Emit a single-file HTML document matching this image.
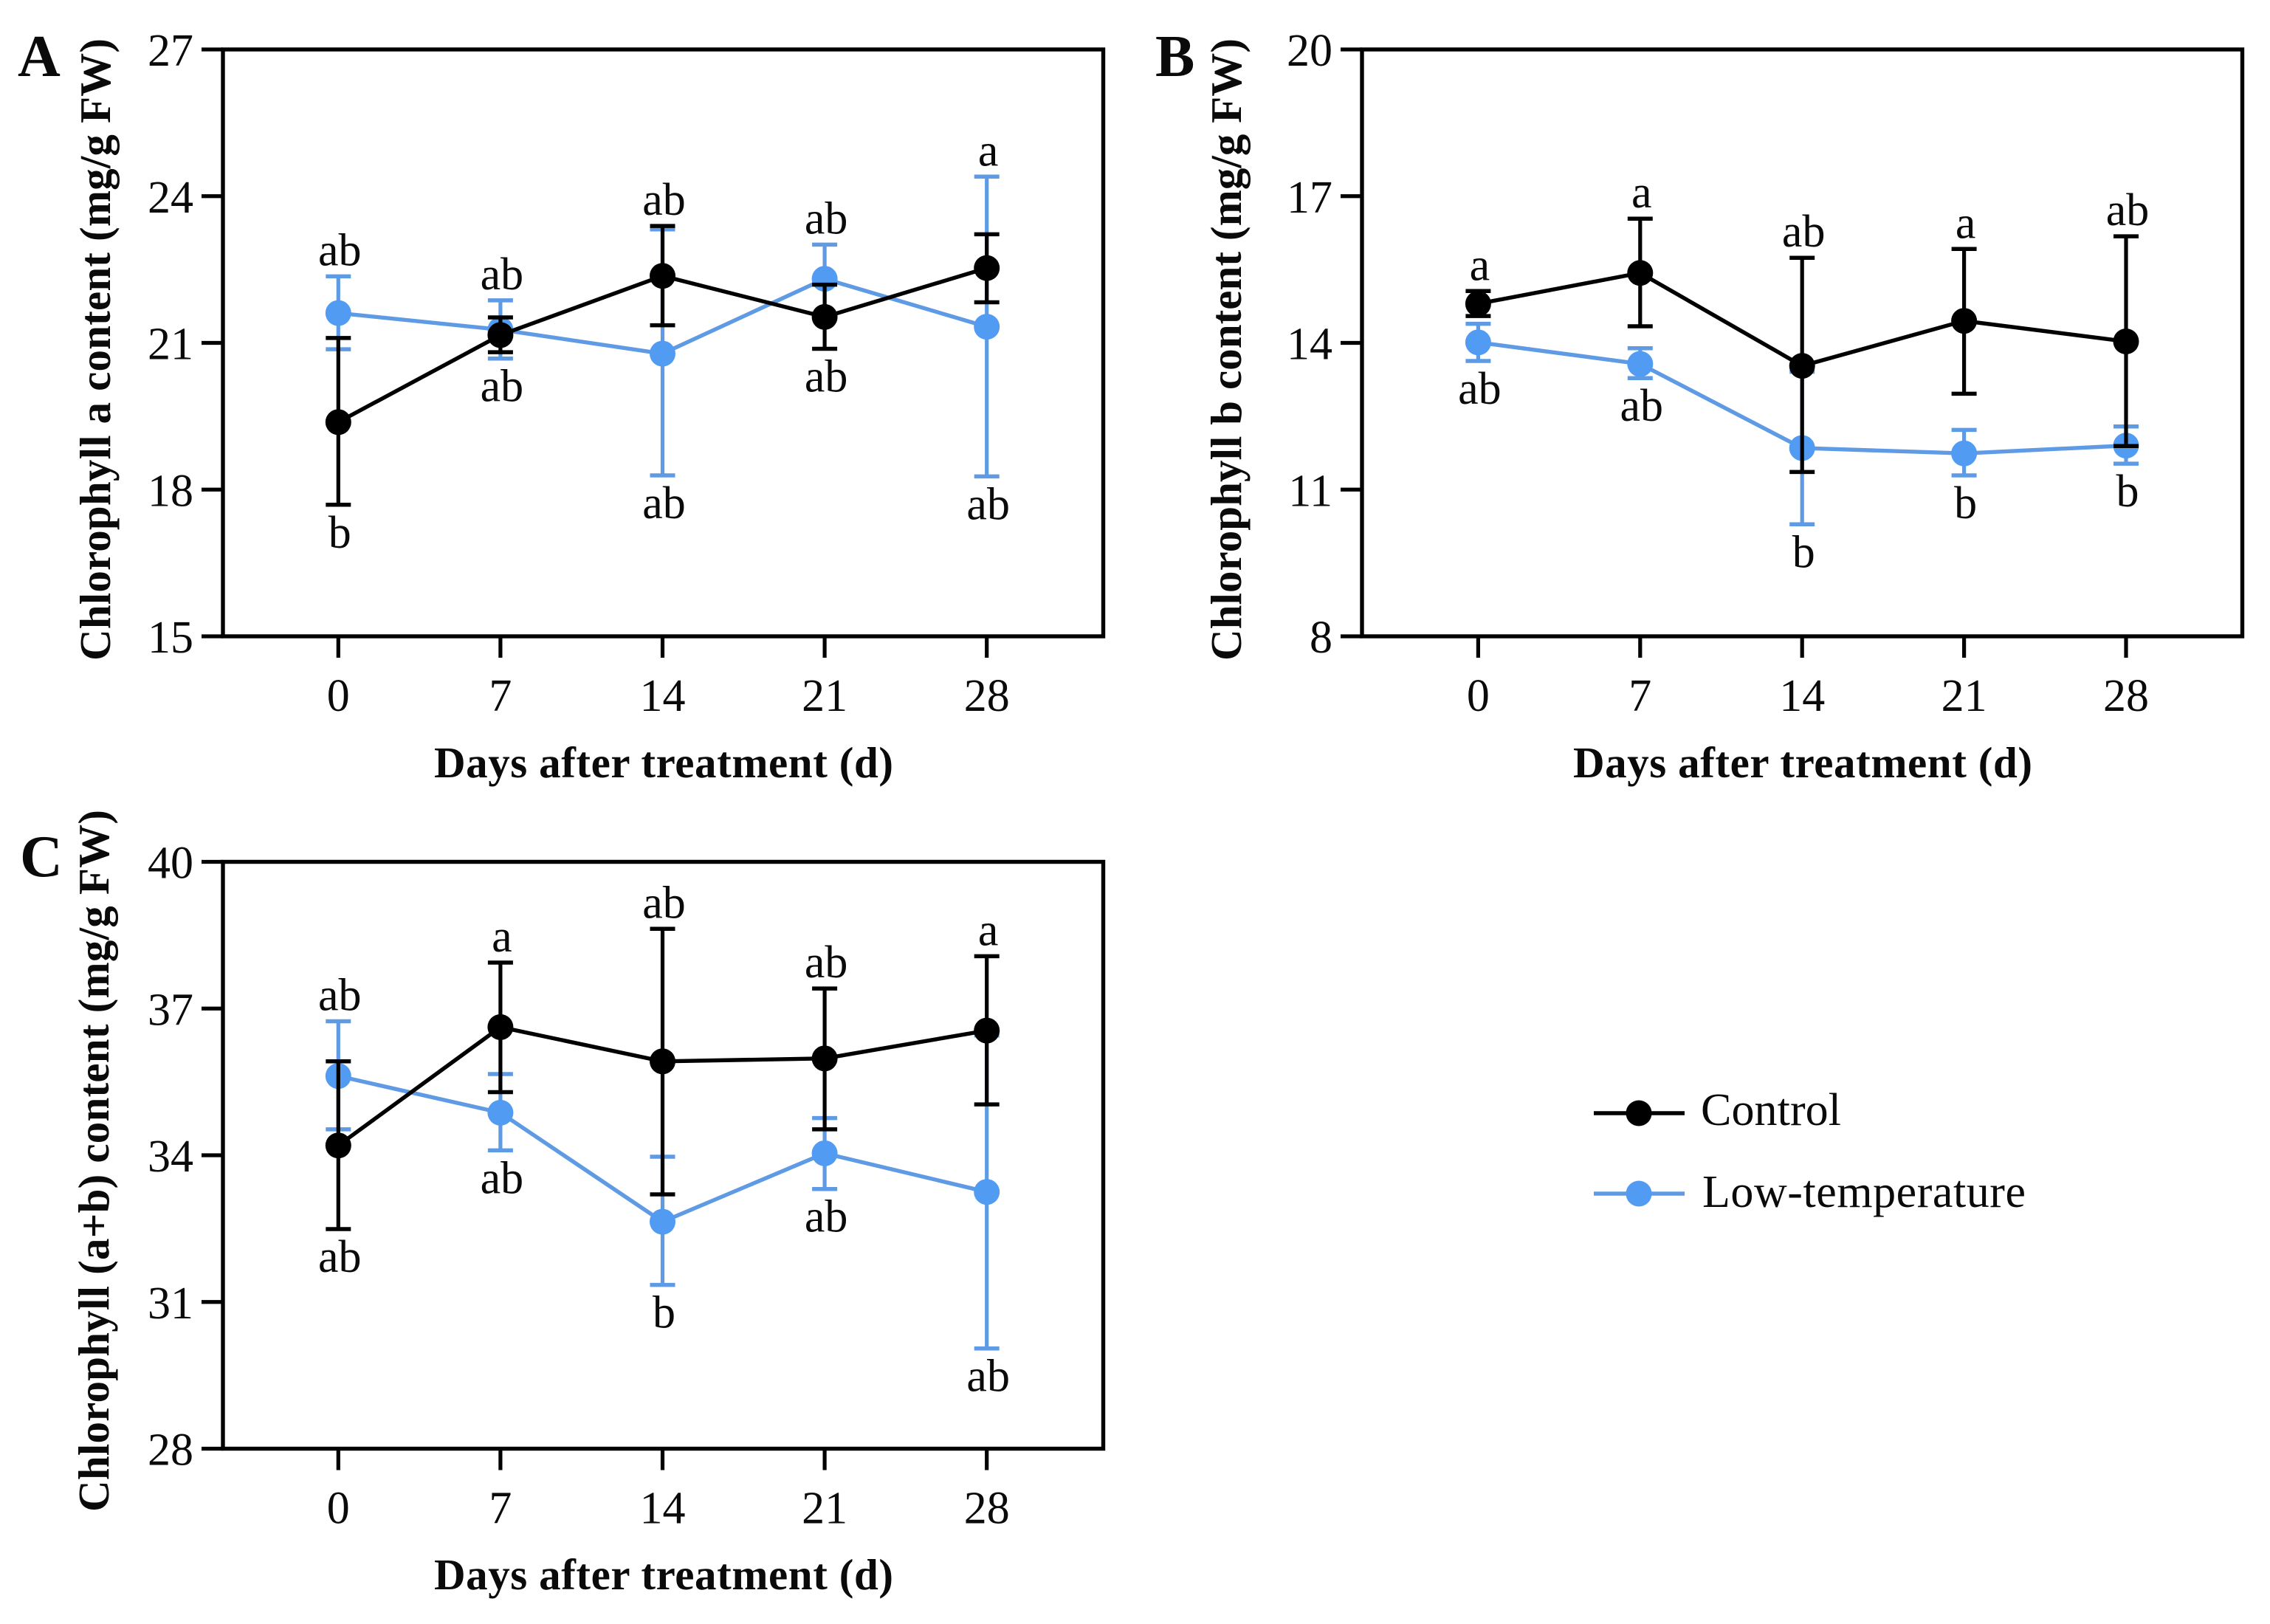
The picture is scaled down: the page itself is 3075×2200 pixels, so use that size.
<!DOCTYPE html>
<html lang="en">
<head>
<meta charset="utf-8">
<title>Chlorophyll content after treatment</title>
<style>
html,body{margin:0;padding:0;background:#fff;}
svg{display:block;}
text{font-family:"Liberation Serif",serif;fill:#0a0a0a;}
.tick{font-size:62px;}
.sig{font-size:62px;text-anchor:middle;}
.title{font-size:59px;font-weight:bold;text-anchor:middle;}
.letter{font-size:80px;font-weight:bold;}
.legend-text{font-size:62px;}
</style>
</head>
<body>
<svg id="figure" xmlns="http://www.w3.org/2000/svg" width="3075" height="2200" viewBox="0 0 3075 2200">
  <rect x="0" y="0" width="3075" height="2200" fill="#fff"/>

  <g id="panel-a">
    <text class="letter" x="24" y="103">A</text>
    <text class="title" transform="translate(149,473.5) rotate(-90)" textLength="843" lengthAdjust="spacing">Chlorophyll a content (mg/g FW)</text>
    <text class="title" x="899" y="1053" textLength="622" lengthAdjust="spacing">Days after treatment (d)</text>
  </g>

  <g id="panel-b">
    <text class="letter" x="1565" y="103">B</text>
    <text class="title" transform="translate(1681,473.5) rotate(-90)" textLength="843" lengthAdjust="spacing">Chlorophyll b content (mg/g FW)</text>
    <text class="title" x="2442" y="1053" textLength="622" lengthAdjust="spacing">Days after treatment (d)</text>
  </g>

  <g id="panel-c">
    <text class="letter" x="27" y="1187">C</text>
    <text class="title" transform="translate(147,1572.5) rotate(-90)" textLength="951" lengthAdjust="spacing">Chlorophyll (a+b) content (mg/g FW)</text>
    <text class="title" x="899" y="2153" textLength="622" lengthAdjust="spacing">Days after treatment (d)</text>
  </g>

  <g id="legend">
    <g>
      <line x1="2159" y1="1508" x2="2282" y2="1508" stroke="#000" stroke-width="5.5"/>
      <circle cx="2220" cy="1508" r="17.5" fill="#000"/>
      <text class="legend-text" x="2304" y="1524" textLength="190" lengthAdjust="spacing">Control</text>
    </g>
    <g>
      <line x1="2159" y1="1617" x2="2282" y2="1617" stroke="#5f9ae2" stroke-width="5.5"/>
      <circle cx="2220" cy="1617" r="17.5" fill="#529bf3"/>
      <text class="legend-text" x="2306" y="1635" textLength="438" lengthAdjust="spacing">Low-temperature</text>
    </g>
  </g>
</svg>

<script>
// Shared categories
const days = [0, 7, 14, 21, 28];

// Panel A values
const aTicks = [15, 18, 21, 24, 27];
const aControlMean = [19.38, 21.16, 22.37, 21.53, 22.53];
const aControlUpper = [21.10, 21.52, 23.39, 22.19, 23.22];
const aControlLower = [17.69, 20.81, 21.36, 20.88, 21.83];
const aLowMean = [21.61, 21.27, 20.78, 22.31, 21.33];
const aLowUpper = [22.36, 21.87, 23.32, 23.01, 24.40];
const aLowLower = [20.87, 20.68, 18.29, 21.60, 18.27];
const aLabelsAbove = ["ab", "ab", "ab", "ab", "a"];
const aLabelsBelow = ["b", "ab", "ab", "ab", "ab"];

// Panel B values
const bTicks = [8, 11, 14, 17, 20];
const bControlMean = [14.80, 15.43, 13.53, 14.45, 14.03];
const bControlUpper = [15.06, 16.54, 15.74, 15.92, 16.18];
const bControlLower = [14.55, 14.34, 11.36, 12.96, 11.89];
const bLowMean = [14.01, 13.57, 11.85, 11.74, 11.90];
const bLowUpper = [14.39, 13.89, 13.41, 12.22, 12.29];
const bLowLower = [13.63, 13.28, 10.29, 11.29, 11.53];
const bLabelsAbove = ["a", "a", "ab", "a", "ab"];
const bLabelsBelow = ["ab", "ab", "b", "b", "b"];

// Panel C values
const cTicks = [28, 31, 34, 37, 40];
const cControlMean = [34.20, 36.62, 35.92, 35.98, 36.55];
const cControlUpper = [35.92, 37.94, 38.63, 37.41, 38.07];
const cControlLower = [32.49, 35.29, 33.20, 34.53, 35.04];
const cLowMean = [35.62, 34.87, 32.64, 34.04, 33.25];
const cLowUpper = [36.74, 35.66, 33.97, 34.76, 36.45];
const cLowLower = [34.53, 34.10, 31.35, 33.31, 30.05];
const cLabelsAbove = ["ab", "a", "ab", "ab", "a"];
const cLabelsBelow = ["ab", "ab", "b", "ab", "ab"];

const SVG_NS = "http://www.w3.org/2000/svg";
const BLACK = "#000000";
const BLUE_LINE = "#5f9ae4";
const BLUE_MARK = "#529bf3";

function make(parent, tag, attrs, content) {
  const el = document.createElementNS(SVG_NS, tag);
  for (const k in attrs) el.setAttribute(k, attrs[k]);
  if (content !== undefined) el.textContent = content;
  parent.appendChild(el);
  return el;
}

function drawSeries(group, sx, sy, mean, upper, lower, lineColor, markColor, key) {
  days.forEach(function (d, i) {
    const x = sx(d);
    const stem = make(group, "line", {x1: x, x2: x, y1: sy(upper[i]), y2: sy(lower[i]), stroke: lineColor, "stroke-width": 5.2});
    
    
    [upper[i], lower[i]].forEach(function (v) {
      const cap = make(group, "line", {x1: x - 17, x2: x + 17, y1: sy(v), y2: sy(v), stroke: lineColor, "stroke-width": 5.5});
      
      
    });
  });
  const pts = days.map(function (d, i) { return sx(d) + "," + sy(mean[i]); }).join(" ");
  const line = make(group, "polyline", {points: pts, fill: "none", stroke: lineColor, "stroke-width": 5.4, "stroke-linejoin": "round"});
  
  
  days.forEach(function (d, i) {
    const dot = make(group, "circle", {cx: sx(d), cy: sy(mean[i]), r: 17.5, fill: markColor});
    
    
  });
}

function drawPanel(id, frame, ticks, ctrl, low, labelsAbove, labelsBelow) {
  const group = document.getElementById(id);
  const yMin = ticks[0];
  const yMax = ticks[ticks.length - 1];
  const sy = function (v) { return frame.bottom - (v - yMin) / (yMax - yMin) * (frame.bottom - frame.top); };
  const sx = function (d) { return frame.x0 + d / days[days.length - 1] * (frame.x28 - frame.x0); };

  const box = make(group, "rect", {x: frame.left, y: frame.top, width: frame.right - frame.left, height: frame.bottom - frame.top, fill: "none", stroke: BLACK, "stroke-width": 5.4});
  
  

  ticks.forEach(function (t) {
    const y = sy(t);
    const mark = make(group, "line", {x1: frame.left - 29, x2: frame.left, y1: y, y2: y, stroke: BLACK, "stroke-width": 5.2});
    
    
    const label = make(group, "text", {class: "tick", x: frame.left - 40, y: y + 22, "text-anchor": "end"}, String(t));
    
    
  });

  days.forEach(function (d) {
    const x = sx(d);
    const mark = make(group, "line", {x1: x, x2: x, y1: frame.bottom, y2: frame.bottom + 29, stroke: BLACK, "stroke-width": 5.2});
    
    
    const label = make(group, "text", {class: "tick", x: x, y: frame.bottom + 101, "text-anchor": "middle"}, String(d));
    
    
  });

  drawSeries(group, sx, sy, low.mean, low.upper, low.lower, BLUE_LINE, BLUE_MARK, "low-temperature");
  drawSeries(group, sx, sy, ctrl.mean, ctrl.upper, ctrl.lower, BLACK, BLACK, "control");

  days.forEach(function (d, i) {
    const top = Math.max(ctrl.upper[i], low.upper[i]);
    const bottom = Math.min(ctrl.lower[i], low.lower[i]);
    const above = make(group, "text", {class: "sig", x: sx(d) + 2, y: sy(top) - 15}, labelsAbove[i]);
    
    
    const below = make(group, "text", {class: "sig", x: sx(d) + 2, y: sy(bottom) + 58}, labelsBelow[i]);
    
    
  });
}

drawPanel("panel-a",
  {left: 302, right: 1494.5, top: 67, bottom: 862, x0: 458.3, x28: 1336.7},
  aTicks,
  {mean: aControlMean, upper: aControlUpper, lower: aControlLower},
  {mean: aLowMean, upper: aLowUpper, lower: aLowLower},
  aLabelsAbove, aLabelsBelow);

drawPanel("panel-b",
  {left: 1845, right: 3037.5, top: 67, bottom: 862, x0: 2002.4, x28: 2880},
  bTicks,
  {mean: bControlMean, upper: bControlUpper, lower: bControlLower},
  {mean: bLowMean, upper: bLowUpper, lower: bLowLower},
  bLabelsAbove, bLabelsBelow);

drawPanel("panel-c",
  {left: 302, right: 1494.5, top: 1167.5, bottom: 1962.5, x0: 458.3, x28: 1336.7},
  cTicks,
  {mean: cControlMean, upper: cControlUpper, lower: cControlLower},
  {mean: cLowMean, upper: cLowUpper, lower: cLowLower},
  cLabelsAbove, cLabelsBelow);
</script>
</body>
</html>
